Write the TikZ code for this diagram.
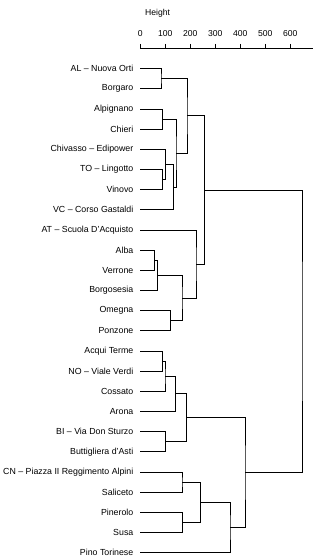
\documentclass[tikz,border=0pt]{standalone}
\usepackage{fontspec}
\setmainfont{Liberation Sans}
\usetikzlibrary{calc}
\tikzset{
  leaflabel/.style={anchor=east, inner sep=0pt, font=\fontsize{8.8}{10}\selectfont},
  ticklabel/.style={anchor=center, inner sep=0pt, font=\fontsize{8.6}{10}\selectfont},
  branch/.style={draw=black, line width=0.8pt},
}
\newcommand{\mergenode}[4]{%
  \path let \p1=($(#2)!.5!(#3)$) in coordinate (#1) at (#4pt,\y1);
  \draw[branch] (#2) -| (#1) |- (#3);
}
\begin{document}
\begin{tikzpicture}[x=1pt,y=-1pt]
\useasboundingbox (0,0) rectangle (322,559);
% axis
\node[ticklabel, anchor=west] (htitle) at (145,13.5) {Height};
\draw[branch] (140.3,48.5) coordinate (ax0) -- (313,48.5) coordinate (ax1);
\foreach \v [count=\i] in {0,100,...,600}{
  \draw[branch] ({140.3+0.25*\v},44) -- ({140.3+0.25*\v},48.5);
  \node[ticklabel] (tl\i) at ({140.3+0.25*\v},33.5) {\v};
}
% leaves
\foreach \t [count=\i from 0] in {
  {AL – Nuova Orti},{Borgaro},{Alpignano},{Chieri},{Chivasso – Edipower},
  {TO – Lingotto},{Vinovo},{VC – Corso Gastaldi},{AT – Scuola D'Acquisto},
  {Alba},{Verrone},{Borgosesia},{Omegna},{Ponzone},{Acqui Terme},
  {NO – Viale Verdi},{Cossato},{Arona},{BI – Via Don Sturzo},
  {Buttigliera d'Asti},{CN – Piazza II Reggimento Alpini},{Saliceto},
  {Pinerolo},{Susa},{Pino Torinese}}{
  \node[leaflabel] (T\i) at (133.5,{68.6+20.17*\i}) {\t};
  \coordinate (L\i) at (140.3,{68.6+20.17*\i});
}
% merges
\mergenode{m1}{L0}{L1}{161}
\mergenode{m2}{L2}{L3}{162.3}
\mergenode{m3}{L5}{L6}{162.7}
\mergenode{m4}{L4}{m3}{165.3}
\mergenode{m5}{m4}{L7}{173.3}
\mergenode{m6}{m2}{m5}{176}
\mergenode{m7}{m1}{m6}{187}
\mergenode{m8}{L9}{L10}{154.3}
\mergenode{m9}{m8}{L11}{157.7}
\mergenode{m10}{L12}{L13}{170.7}
\mergenode{m11}{m9}{m10}{182}
\mergenode{m12}{L8}{m11}{196}
\mergenode{m13}{m7}{m12}{204.7}
\mergenode{m14}{L14}{L15}{162.7}
\mergenode{m15}{m14}{L16}{165}
\mergenode{m16}{m15}{L17}{175.1}
\mergenode{m17}{L18}{L19}{165.7}
\mergenode{m18}{m16}{m17}{186.2}
\mergenode{m19}{L20}{L21}{182}
\mergenode{m20}{L22}{L23}{182.7}
\mergenode{m21}{m19}{m20}{200.7}
\mergenode{m22}{m21}{L24}{230}
\mergenode{m23}{m18}{m22}{245}
\mergenode{m24}{m13}{m23}{302}
\end{tikzpicture}
\end{document}
